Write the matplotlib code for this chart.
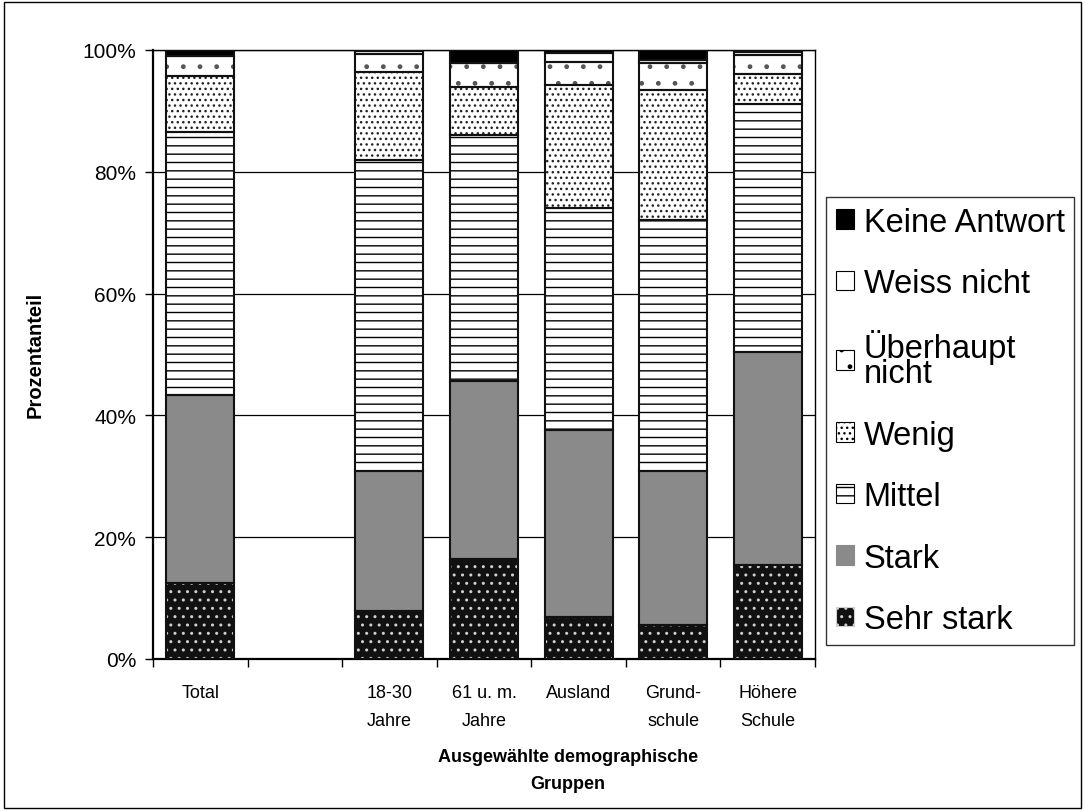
import numpy as np
import matplotlib
matplotlib.use("Agg")
import matplotlib.pyplot as plt
from matplotlib.patches import Patch, Rectangle

plt.rcParams['font.family'] = ['Liberation Sans', 'DejaVu Sans']
plt.rcParams['hatch.linewidth'] = 1.0

# data (percent), stacked bottom -> top
groups = ['Total', '18-30\nJahre', '61 u. m.\nJahre', 'Ausland', 'Grund-\nschule', 'Höhere\nSchule']
slots = [0, 2, 3, 4, 5, 6]   # slot 1 stays empty

sehr_stark = [12.5, 7.9, 16.4, 6.9, 5.6, 15.4]
stark = [30.8, 23.0, 29.3, 30.7, 25.3, 35.0]
mittel = [43.3, 51.0, 40.4, 36.4, 41.2, 40.7]
wenig = [9.1, 14.5, 7.9, 20.3, 21.4, 5.0]
ueberhaupt_nicht = [3.3, 3.0, 3.9, 3.7, 4.3, 3.1]
weiss_nicht = [0.0, 0.5, 0.0, 1.5, 0.5, 0.5]
keine_antwort = [1.0, 0.1, 2.1, 0.5, 1.7, 0.3]

series = [
    ('Sehr stark', sehr_stark, '#111111', '#cfcfcf', '..'),
    ('Stark', stark, '#8a8a8a', '#8a8a8a', None),
    ('Mittel', mittel, 'white', 'black', '--'),
    ('Wenig', wenig, 'white', '#222222', '...'),
    ('Überhaupt\nnicht', ueberhaupt_nicht, 'white', '#555555', '.'),
    ('Weiss nicht', weiss_nicht, 'white', 'black', None),
    ('Keine Antwort', keine_antwort, 'black', 'black', None),
]

fig = plt.figure(figsize=(10.85, 8.12), dpi=100)
ax = fig.add_axes([153 / 1085, 152 / 812, 662 / 1085, 609 / 812])

width = 0.72
bottom = np.zeros(len(groups))
handles = []
for name, vals, face, hcol, hatch in series:
    vals = np.array(vals)
    ax.bar(slots, vals, width, bottom=bottom, color=face, edgecolor=hcol,
           hatch=hatch, linewidth=0, zorder=2)
    ax.bar(slots, vals, width, bottom=bottom, fill=False, edgecolor='#111111',
           linewidth=1.5, zorder=3)
    handles.append(Patch(facecolor=face, edgecolor=hcol if face != 'white' else 'black',
                         hatch=hatch, linewidth=0.8, label=name))
    bottom += vals

ax.set_xlim(-0.5, 6.5)
ax.set_ylim(0, 100)
ax.set_yticks(np.arange(0, 101, 20))
ax.set_yticklabels([f'{v}%' for v in range(0, 101, 20)], fontsize=15)
ax.yaxis.grid(True, color='black', linewidth=0.9, zorder=0)
ax.set_axisbelow(True)

ax.set_xticks(np.arange(-0.5, 7, 1))
ax.set_xticklabels([])
ax.set_xticks(slots, minor=True)
ax.set_xticklabels(groups, minor=True, fontsize=13, linespacing=1.85)
ax.tick_params(axis='x', which='minor', length=0, pad=18)
ax.tick_params(axis='x', which='major', length=6, direction='out', width=1)
ax.tick_params(axis='y', length=6, direction='out', width=1, pad=6)

for s in ax.spines.values():
    s.set_linewidth(1.0)
ax.spines['left'].set_linewidth(1.6)
ax.spines['bottom'].set_linewidth(1.6)

fig.text(35 / 1085, 1 - 355 / 812, 'Prozentanteil', rotation=90, ha='center',
         va='center', fontsize=14.5, fontweight='bold')
fig.text(568 / 1085, 1 - 771 / 812, 'Ausgewählte demographische\nGruppen',
         ha='center', va='center', fontsize=13, fontweight='bold', linespacing=1.8)

leg = fig.legend(handles=handles[::-1], loc='upper left',
                 bbox_to_anchor=(826 / 1085, 1 - 198 / 812),
                 fontsize=23.5, frameon=True, fancybox=False, edgecolor='black',
                 handlelength=0.55, handleheight=0.55, handletextpad=0.3,
                 labelspacing=0.93, borderpad=0.3, borderaxespad=0)
leg.get_frame().set_linewidth(1.0)
for t in leg.get_texts():
    t.set_linespacing(0.75)

fig.patches.append(Rectangle((0.004, 0.004), 0.992, 0.992, transform=fig.transFigure,
                             fill=False, edgecolor='black', linewidth=1.0))

fig.savefig('out.png', dpi=100)
